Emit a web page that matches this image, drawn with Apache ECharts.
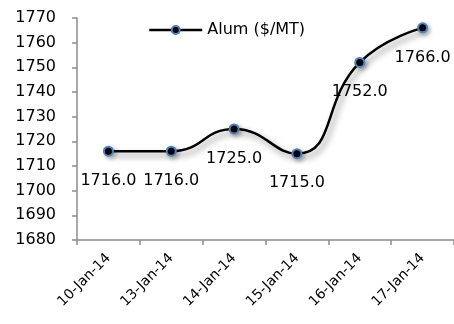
<!DOCTYPE html>
<html>
<head>
<meta charset="utf-8">
<script src="https://cdn.jsdelivr.net/npm/echarts@6/dist/echarts.min.js"></script>
<style>
  html, body { margin: 0; padding: 0; background: #fff; }
  #chart { width: 454px; height: 324px; }
</style>
</head>
<body>
<div id="chart"></div>
<script>
// Aluminium price, daily closes
const dates = ['10-Jan-14', '13-Jan-14', '14-Jan-14', '15-Jan-14', '16-Jan-14', '17-Jan-14'];
const alumPrices = [1716.0, 1716.0, 1725.0, 1715.0, 1752.0, 1766.0];
const seriesName = 'Alum ($/MT)';

const FONT = 'DejaVu Sans';
const chart = echarts.init(document.getElementById('chart'), null, { renderer: 'canvas' });

chart.setOption({
  animation: false,
  backgroundColor: '#ffffff',
  grid: { left: 77, top: 18, width: 378, bottom: 84, containLabel: false },
  legend: {
    data: [seriesName],
    left: 143,
    top: 17,
    itemWidth: 53,
    itemHeight: 10,
    itemGap: 4,
    itemStyle: { borderWidth: 2, borderColor: '#4f81bd', color: '#000' },
    lineStyle: { width: 2.5, color: '#000' },
    textStyle: { fontFamily: FONT, fontSize: 16, color: '#000', padding: [0, 0, 0, 0] }
  },
  xAxis: {
    type: 'category',
    data: dates,
    boundaryGap: true,
    axisLine: { lineStyle: { color: '#8c8c8c', width: 1.5 } },
    axisTick: { show: true, alignWithLabel: false, length: 5, lineStyle: { color: '#8c8c8c', width: 1.5 } },
    axisLabel: {
      interval: 0,
      rotate: 45,
      margin: 16,
      fontFamily: FONT,
      fontSize: 14,
      color: '#000'
    }
  },
  yAxis: {
    type: 'value',
    min: 1680,
    max: 1770,
    interval: 10,
    axisLine: { show: true, lineStyle: { color: '#8c8c8c', width: 1.5 } },
    axisTick: { show: true, length: 5, lineStyle: { color: '#8c8c8c', width: 1.5 } },
    splitLine: { show: false },
    axisLabel: { fontFamily: FONT, fontSize: 16, color: '#000', margin: 21, formatter: v => String(v) }
  },
  series: [{
    name: seriesName,
    type: 'line',
    data: alumPrices,
    smooth: 0.5,
    symbol: 'circle',
    symbolSize: 9,
    lineStyle: {
      color: '#000',
      width: 2.5,
      shadowColor: 'rgba(0,0,0,0.45)',
      shadowBlur: 6,
      shadowOffsetX: 3,
      shadowOffsetY: 4
    },
    itemStyle: {
      color: '#000',
      borderColor: '#4f81bd',
      borderWidth: 2,
      shadowColor: 'rgba(0,0,0,0.3)',
      shadowBlur: 4,
      shadowOffsetX: 2,
      shadowOffsetY: 2
    },
    label: {
      show: true,
      position: 'bottom',
      distance: 16,
      formatter: p => p.value.toFixed(1),
      fontFamily: FONT,
      fontSize: 16,
      color: '#000'
    }
  }]
});
</script>
</body>
</html>
